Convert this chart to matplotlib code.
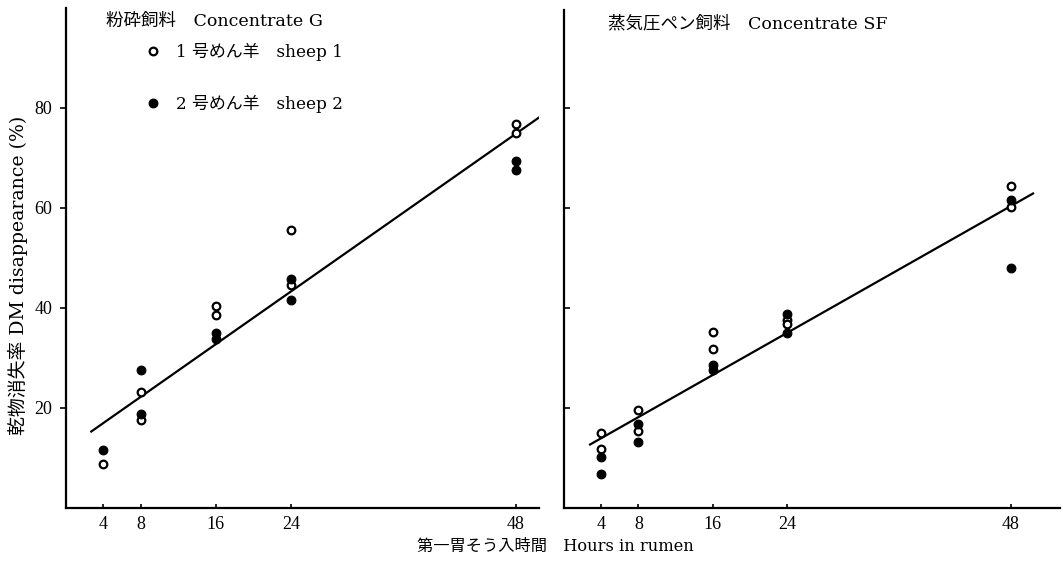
import matplotlib
matplotlib.use("Agg")
import matplotlib.pyplot as plt

plt.rcParams['font.family'] = ['DejaVu Serif', 'Noto Sans CJK JP']

# ---- data ----
hours_ticks = [4, 8, 16, 24, 48]
y_ticks = [20, 40, 60, 80]

# Concentrate G (left)
g_s1_x = [4, 8, 8, 16, 16, 24, 24, 48, 48]
g_s1_y = [8.8, 23.3, 17.6, 40.4, 38.7, 55.6, 44.6, 76.8, 75.1]
g_s2_x = [4, 8, 8, 16, 16, 24, 24, 48, 48]
g_s2_y = [11.7, 27.6, 18.9, 35.1, 33.9, 45.9, 41.6, 69.4, 67.6]
g_line_x = [2.7, 50.5]
g_line_y = [15.3, 78.1]

# Concentrate SF (right)
sf_s1_x = [4, 4, 8, 8, 16, 16, 24, 24, 48, 48]
sf_s1_y = [15.1, 11.9, 19.7, 15.5, 35.2, 31.8, 37.7, 36.8, 64.5, 60.3]
sf_s2_x = [4, 4, 8, 8, 16, 16, 24, 24, 48, 48]
sf_s2_y = [10.3, 6.9, 16.9, 13.3, 28.7, 27.6, 38.9, 35.1, 61.6, 48.1]
sf_line_x = [2.8, 50.4]
sf_line_y = [12.7, 62.9]

label_s1 = '1 号めん羊　sheep 1'
label_s2 = '2 号めん羊　sheep 2'
title_g = '粉砕飼料　Concentrate G'
title_sf = '蒸気圧ペン飼料　Concentrate SF'
ylabel = '乾物消失率 DM disappearance (%)'
xlabel = '第一胃そう入時間　Hours in rumen'

W, H = 1063, 562
fig = plt.figure(figsize=(W / 100, H / 100), dpi=100)

axL = fig.add_axes([66 / W, (H - 508) / H, 473 / W, 500 / H])
axR = fig.add_axes([564 / W, (H - 508) / H, 496 / W, 498 / H])

ms = 5.5
mew = 1.6
tick_family = ['Liberation Serif']

def style(ax, xmax, show_ylabels):
    ax.set_xlim(0, xmax)
    ax.set_ylim(0, 100 if show_ylabels else 99.6)
    for s in ['top', 'right']:
        ax.spines[s].set_visible(False)
    for s in ['left', 'bottom']:
        ax.spines[s].set_linewidth(1.6)
    ax.set_xticks(hours_ticks)
    ax.set_xticklabels([str(h) for h in hours_ticks], fontfamily=tick_family)
    ax.set_yticks(y_ticks)
    ax.tick_params(axis='x', direction='in', length=3, width=1.2, pad=6, labelsize=13)
    if show_ylabels:
        ax.set_yticklabels([str(v) for v in y_ticks], fontfamily=tick_family)
        ax.tick_params(axis='y', direction='out', length=4, width=1.2, pad=6, labelsize=13)
    else:
        ax.set_yticklabels([])
        ax.tick_params(axis='y', direction='in', length=4, width=1.2)

# left
axL.plot(g_line_x, g_line_y, color='black', lw=1.6, zorder=2)
h1, = axL.plot(g_s1_x, g_s1_y, 'o', ms=ms, mfc='white', mec='black', mew=mew,
               ls='none', label=label_s1, zorder=3)
h2, = axL.plot(g_s2_x, g_s2_y, 'o', ms=ms + 0.8, mfc='black', mec='black', mew=0.8,
               ls='none', label=label_s2, zorder=3)
style(axL, 50.5, True)
axL.text(40 / 473, (508 - 21) / 500, title_g, transform=axL.transAxes,
         ha='left', va='center', fontsize=12.6)
axL.legend(handles=[h1, h2], loc='upper left',
           bbox_to_anchor=(80 / 473, (508 - 43) / 500), frameon=False,
           fontsize=12.2, labelspacing=1.98, handlelength=0.8, handletextpad=1.0,
           borderaxespad=0, borderpad=0)

# right
axR.plot(sf_line_x, sf_line_y, color='black', lw=1.6, zorder=2)
axR.plot(sf_s1_x, sf_s1_y, 'o', ms=ms, mfc='white', mec='black', mew=mew, ls='none', zorder=3)
axR.plot(sf_s2_x, sf_s2_y, 'o', ms=ms + 0.8, mfc='black', mec='black', mew=0.8, ls='none', zorder=3)
style(axR, 53.3, False)
axR.text(44 / 496, (508 - 24) / 498, title_sf, transform=axR.transAxes,
         ha='left', va='center', fontsize=12.6)

fig.text(18 / W, (H - 275) / H, ylabel, rotation=90, ha='center', va='center', fontsize=13.6)
fig.text(555 / W, (H - 546) / H, xlabel, ha='center', va='center', fontsize=11.7)

fig.savefig('out.png', dpi=100)
